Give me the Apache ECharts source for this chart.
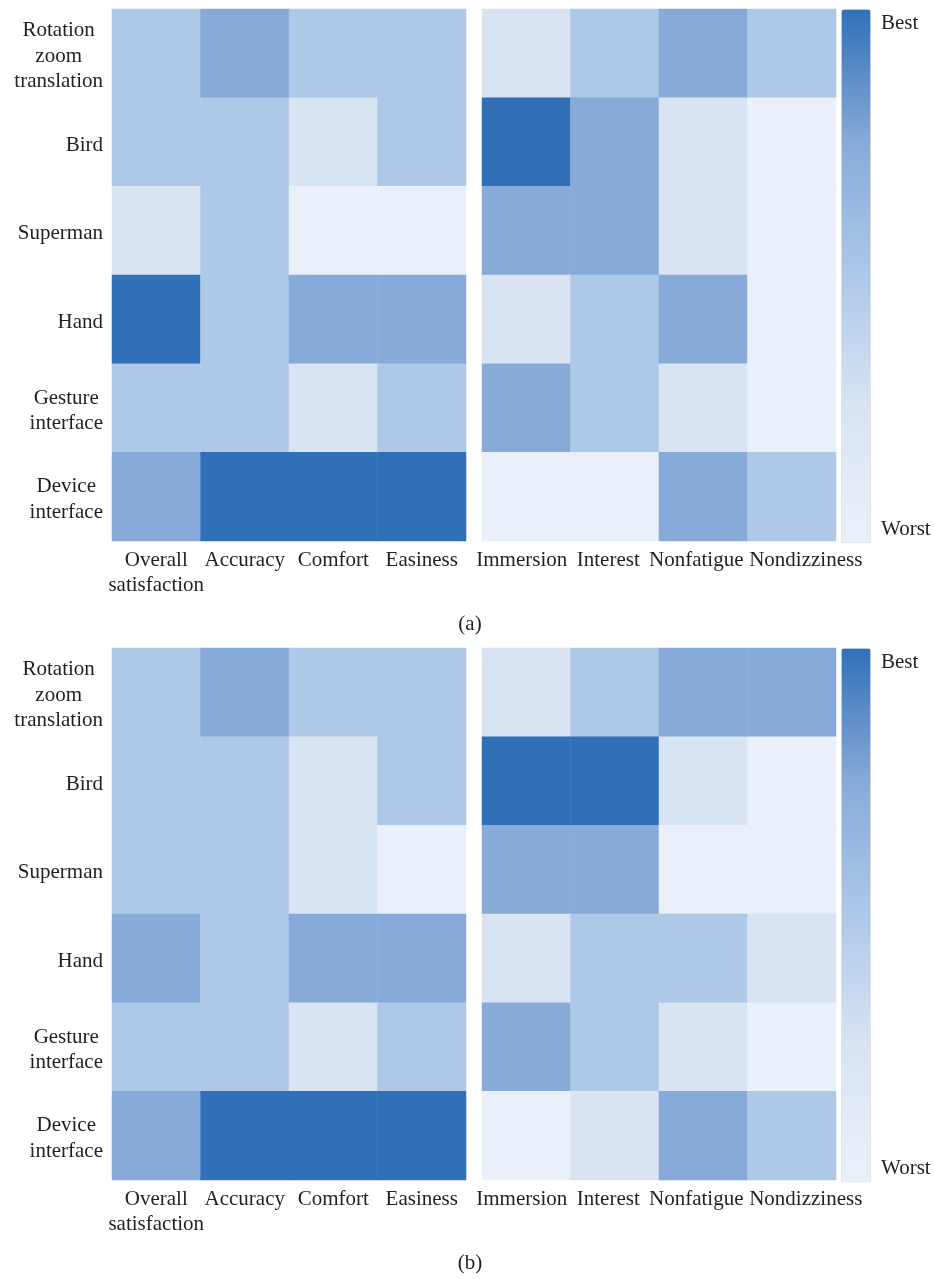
<!DOCTYPE html>
<html>
<head>
<meta charset="utf-8">
<title>Interface ranking heatmaps</title>
<script src="https://cdn.jsdelivr.net/npm/echarts@6/dist/echarts.min.js"></script>
<style>
  html, body { margin: 0; padding: 0; background: #ffffff; }
  #chart { width: 934px; height: 1279px; }
</style>
</head>
<body>
<div id="chart"></div>
<script>
// Interaction techniques (rows, top to bottom)
const interfaces = ['Rotation\nzoom\ntranslation', 'Bird', 'Superman', 'Hand', 'Gesture\ninterface', 'Device\ninterface'];
// Criteria (columns) of the two blocks in each panel
const usabilityItems = ['Overall\nsatisfaction', 'Accuracy', 'Comfort', 'Easiness'];
const experienceItems = ['Immersion', 'Interest', 'Nonfatigue', 'Nondizziness'];

// Rank level per cell: 5 = best, 1 = worst (one row per interface)
const ranksA_usability = [[3, 4, 3, 3], [3, 3, 2, 3], [2, 3, 1, 1], [5, 3, 4, 4], [3, 3, 2, 3], [4, 5, 5, 5]];
const ranksA_experience = [[2, 3, 4, 3], [5, 4, 2, 1], [4, 4, 2, 1], [2, 3, 4, 1], [4, 3, 2, 1], [1, 1, 4, 3]];
const ranksB_usability = [[3, 4, 3, 3], [3, 3, 2, 3], [3, 3, 2, 1], [4, 3, 4, 4], [3, 3, 2, 3], [4, 5, 5, 5]];
const ranksB_experience = [[2, 3, 4, 4], [5, 5, 2, 1], [4, 4, 1, 1], [2, 3, 3, 2], [4, 3, 2, 1], [1, 2, 4, 3]];

// Colour scale, from worst (1) to best (5)
const levelColors = ['#e9f0f9', '#d9e4f3', '#aec8e8', '#88aad9', '#3070b8'];
const scaleText = ['Best', 'Worst'];
const panelCaptions = ['(a)', '(b)'];

const FONT = "'Liberation Serif', 'DejaVu Serif', serif";
const TEXT_COLOR = '#231f20';
const LABEL_SIZE = 21;

// Horizontal nudges (px) for the tightly packed right-hand column labels
const experienceLabelShift = [-4.5, -6.5, -7, 14];

const chart = echarts.init(document.getElementById('chart'), null, { renderer: 'canvas' });

// Layout of the two panels
const panelTops = [9, 648];
const cellsHeight = 532;
const blockLefts = [112, 482];
const blockWidth = 354;
const barLeft = 841;
const barWidth = 29;

function toCells(matrix) {
  const out = [];
  matrix.forEach((row, r) => row.forEach((v, c) => out.push([c, r, v])));
  return out;
}

// Rich styles that shift each right-hand label by padding one side
const shiftedRich = {};
experienceLabelShift.forEach((dx, i) => {
  shiftedRich['s' + i] = {
    fontFamily: FONT, fontSize: LABEL_SIZE, lineHeight: 25, color: TEXT_COLOR,
    padding: dx >= 0 ? [0, 0, 0, 2 * dx] : [0, -2 * dx, 0, 0]
  };
});

const grids = [], xAxes = [], yAxes = [], series = [], visualMaps = [], graphics = [];
const panels = [
  [ranksA_usability, ranksA_experience],
  [ranksB_usability, ranksB_experience]
];

panels.forEach((blocks, p) => {
  const seriesIdx = [];
  blocks.forEach((matrix, b) => {
    const gi = grids.length;
    grids.push({ left: blockLefts[b], top: panelTops[p], width: blockWidth, height: cellsHeight });
    const xLabel = {
      margin: 7, fontFamily: FONT, fontSize: LABEL_SIZE, lineHeight: 25, color: TEXT_COLOR, interval: 0
    };
    if (b === 1) {
      xLabel.formatter = (v, i) => '{s' + i + '|' + v + '}';
      xLabel.rich = shiftedRich;
    }
    xAxes.push({
      type: 'category', gridIndex: gi, position: 'bottom',
      data: b === 0 ? usabilityItems : experienceItems,
      axisLine: { show: false }, axisTick: { show: false }, splitArea: { show: false },
      axisLabel: xLabel
    });
    yAxes.push({
      type: 'category', gridIndex: gi, inverse: true, data: interfaces,
      axisLine: { show: false }, axisTick: { show: false }, splitArea: { show: false },
      axisLabel: {
        show: b === 0, margin: 9, align: 'right', interval: 0, padding: [6, 0, 0, 0],
        fontFamily: FONT, fontSize: LABEL_SIZE, lineHeight: 25.5, color: TEXT_COLOR,
        formatter: (v) => v.split('\n').map(s => '{c|' + s + '}').join('\n'),
        rich: { c: { align: 'center', fontFamily: FONT, fontSize: LABEL_SIZE, lineHeight: 25.5, color: TEXT_COLOR } }
      }
    });
    seriesIdx.push(series.length);
    series.push({
      type: 'heatmap', xAxisIndex: gi, yAxisIndex: gi,
      data: toCells(matrix),
      itemStyle: { borderWidth: 0 },
      emphasis: { disabled: true }
    });
  });

  // Colour scale bar for this panel
  visualMaps.push({
    type: 'continuous', min: 1, max: 5, seriesIndex: seriesIdx,
    orient: 'vertical', left: barLeft, top: panelTops[p],
    itemWidth: barWidth, itemHeight: cellsHeight + 1,
    padding: 0, calculable: false, hoverLink: false,
    borderWidth: 1, borderColor: '#e3e8f0',
    inRange: { color: levelColors }
  });

  graphics.push(
    { type: 'text', left: 881, top: panelTops[p] + 4,
      style: { text: scaleText[0], font: LABEL_SIZE + 'px ' + FONT, fill: TEXT_COLOR } },
    { type: 'text', left: 881, top: panelTops[p] + cellsHeight - 22,
      style: { text: scaleText[1], font: LABEL_SIZE + 'px ' + FONT, fill: TEXT_COLOR } },
    { type: 'text', x: 470, y: panelTops[p] + 615,
      style: { text: panelCaptions[p], font: LABEL_SIZE + 'px ' + FONT, fill: TEXT_COLOR, align: 'center', verticalAlign: 'middle' } }
  );
});

chart.setOption({
  animation: false,
  backgroundColor: '#ffffff',
  grid: grids,
  xAxis: xAxes,
  yAxis: yAxes,
  visualMap: visualMaps,
  series: series,
  graphic: graphics
});
</script>
</body>
</html>
